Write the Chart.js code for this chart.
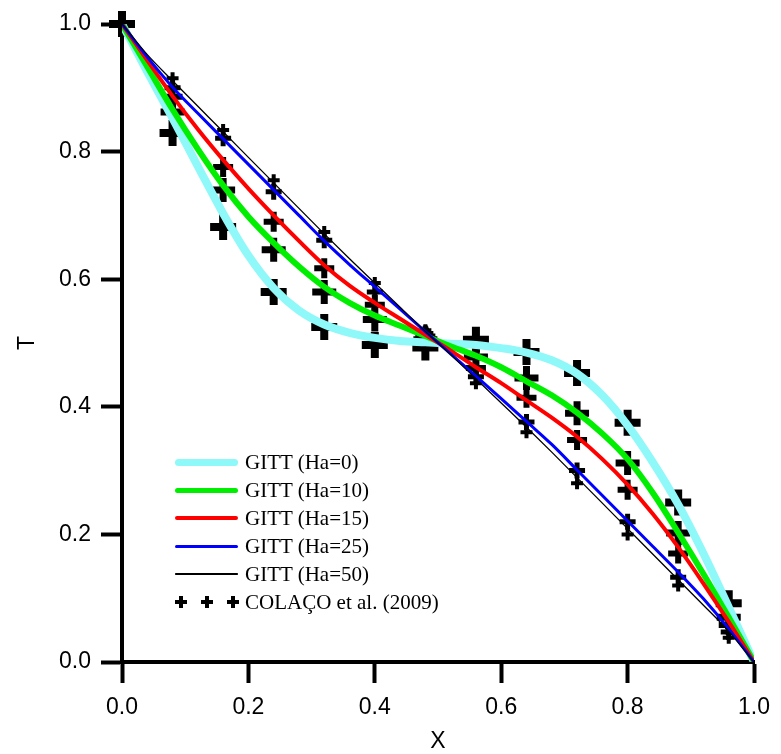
<!DOCTYPE html>
<html>
<head>
<meta charset="utf-8">
<script src="https://cdn.jsdelivr.net/npm/chart.js@4.4.1/dist/chart.umd.min.js"></script>
<style>
    html, body { margin: 0; padding: 0; background: #fff; }
    #wrap { position: relative; width: 781px; height: 754px; }
    #legend { position: absolute; left: 175px; top: 448px; font-family: "Liberation Serif", "Times New Roman", serif; font-size: 21px; color: #000; }
    .row { position: relative; height: 28px; width: 300px; }
    .swatch { position: absolute; left: 0; width: 63px; }
    .txt { position: absolute; left: 70px; top: 0; line-height: 28px; white-space: nowrap; }
    .plus { position: absolute; width: 12px; height: 12px; top: 8px; }
    .plus::before, .plus::after { content: ""; position: absolute; background: #000; }
    .plus::before { left: 0; top: 4px; width: 12px; height: 4px; }
    .plus::after { left: 4px; top: 0; width: 4px; height: 12px; }
</style>
</head>
<body>
<div id="wrap">
    <canvas id="tChart" width="781" height="754"></canvas>
    <div id="legend"></div>
</div>
<script>
// GITT curves, every 0.04 in X
const curveX = [0, 0.04, 0.08, 0.12, 0.16, 0.20, 0.24, 0.28, 0.32, 0.36, 0.40, 0.44, 0.48,
                0.52, 0.56, 0.60, 0.64, 0.68, 0.72, 0.76, 0.80, 0.84, 0.88, 0.92, 0.96, 1.0];
const gittHa0  = [1, 0.925, 0.852, 0.777, 0.703, 0.637, 0.586, 0.551, 0.529, 0.516, 0.508, 0.503, 0.501,
                  0.499, 0.497, 0.492, 0.485, 0.473, 0.452, 0.418, 0.371, 0.313, 0.247, 0.170, 0.086, 0];
const gittHa10 = [1, 0.933, 0.866, 0.804, 0.747, 0.698, 0.657, 0.620, 0.588, 0.563, 0.543, 0.527, 0.511,
                  0.495, 0.480, 0.462, 0.440, 0.418, 0.391, 0.358, 0.318, 0.265, 0.203, 0.138, 0.070, 0];
const gittHa15 = [1, 0.943, 0.887, 0.835, 0.787, 0.742, 0.700, 0.660, 0.622, 0.590, 0.563, 0.538, 0.513,
                  0.488, 0.462, 0.437, 0.410, 0.383, 0.353, 0.318, 0.278, 0.232, 0.180, 0.123, 0.063, 0];
const gittHa25 = [1, 0.948, 0.901, 0.860, 0.820, 0.780, 0.740, 0.700, 0.660, 0.623, 0.588, 0.553, 0.518,
                  0.483, 0.448, 0.413, 0.377, 0.341, 0.301, 0.261, 0.221, 0.181, 0.141, 0.099, 0.052, 0];
const gittHa50 = [1, 0.952, 0.911, 0.871, 0.831, 0.791, 0.751, 0.711, 0.671, 0.632, 0.594, 0.556, 0.518,
                  0.482, 0.444, 0.406, 0.368, 0.329, 0.289, 0.249, 0.209, 0.169, 0.129, 0.089, 0.048, 0];

// COLAÇO et al. (2009) points
const colacoX = [0, 0.08, 0.16, 0.24, 0.32, 0.40, 0.48, 0.56, 0.64, 0.72, 0.80, 0.88, 0.96];
const colacoHa0  = [1, 0.829, 0.682, 0.580, 0.525, 0.497, 0.493, 0.505, 0.486, 0.453, 0.375, 0.250, 0.092];
const colacoHa10 = [1, 0.862, 0.740, 0.646, 0.580, 0.537, 0.505, 0.478, 0.445, 0.390, 0.312, 0.202, 0.070];
const colacoHa15 = [1, 0.886, 0.776, 0.690, 0.617, 0.560, 0.510, 0.461, 0.414, 0.348, 0.270, 0.170, 0.058];
const colacoHa25 = [1, 0.900, 0.821, 0.737, 0.661, 0.580, 0.515, 0.447, 0.376, 0.300, 0.220, 0.133, 0.047];
const colacoHa50 = [1, 0.915, 0.834, 0.755, 0.674, 0.594, 0.520, 0.437, 0.360, 0.280, 0.200, 0.120, 0.038];

const curveLabels = ['GITT (Ha=0)', 'GITT (Ha=10)', 'GITT (Ha=15)', 'GITT (Ha=25)', 'GITT (Ha=50)'];
const colacoLabel = 'COLAÇO et al. (2009)';

const curveColors = ['#8ff8f8', '#00ee00', '#ff0000', '#0000ff', '#000000'];
const curveWidths = [8, 6, 4, 3, 1.3];
const markerRadius = [13, 12, 10, 8, 6];
const markerWidths = [8, 7, 6, 5, 4];

const toPts = (xs, ys) => xs.map((x, i) => ({x: x, y: ys[i]}));

const curves = [gittHa0, gittHa10, gittHa15, gittHa25, gittHa50];
const colaco = [colacoHa0, colacoHa10, colacoHa15, colacoHa25, colacoHa50];

const datasets = [];
curves.forEach((ys, i) => {
    datasets.push({
        label: curveLabels[i],
        data: toPts(curveX, ys),
        showLine: true,
        borderColor: curveColors[i],
        borderWidth: curveWidths[i],
        pointRadius: 0,
        cubicInterpolationMode: 'monotone',
        order: 5 - i
    });
});
colaco.forEach((ys, i) => {
    datasets.push({
        label: colacoLabel,
        data: toPts(colacoX, ys),
        showLine: false,
        pointStyle: 'cross',
        pointRadius: markerRadius[i],
        pointBorderWidth: markerWidths[i],
        borderColor: '#000',
        backgroundColor: '#000',
        clip: false,
        order: 10
    });
});

const tickFont = {family: '"Liberation Sans", Arial, sans-serif', size: 23};

function axis(titleText, titlePad) {
    return {
        type: 'linear',
        min: 0,
        max: 1,
        ticks: {
            stepSize: 0.2,
            color: '#000',
            font: tickFont,
            padding: 10,
            maxRotation: 0,
            callback: v => v.toFixed(1)
        },
        grid: {
            drawOnChartArea: false,
            drawTicks: true,
            tickLength: 21,
            tickWidth: 4,
            tickColor: '#000'
        },
        border: {display: true, color: '#000', width: 4},
        title: {display: true, text: titleText, color: '#000', font: tickFont, padding: titlePad}
    };
}

const xAxis = axis('X', {top: 0, bottom: -1});
xAxis.afterFit = s => { s.height = 92; };
xAxis.ticks.padding = 11;
const yAxis = axis('T', {top: 14, bottom: 0});
yAxis.afterFit = s => { s.width = 122; };

new Chart(document.getElementById('tChart'), {
    type: 'scatter',
    data: {datasets: datasets},
    options: {
        responsive: false,
        animation: false,
        events: [],
        layout: {padding: {top: 24, right: 21, left: 0, bottom: 0}},
        plugins: {legend: {display: false}, tooltip: {enabled: false}},
        scales: {x: xAxis, y: yAxis}
    }
});

// legend inside the plot, bottom left
const legend = document.getElementById('legend');
const swatchH = [7, 5, 4, 3, 1.5];
curveLabels.forEach((lab, i) => {
    const row = document.createElement('div');
    row.className = 'row';
    const sw = document.createElement('div');
    sw.className = 'swatch';
    sw.style.height = swatchH[i] + 'px';
    sw.style.top = (14 - swatchH[i] / 2) + 'px';
    sw.style.background = curveColors[i];
    sw.style.borderRadius = (swatchH[i] / 2) + 'px';
    row.appendChild(sw);
    const t = document.createElement('div');
    t.className = 'txt';
    t.textContent = lab;
    row.appendChild(t);
    legend.appendChild(row);
});
const crow = document.createElement('div');
crow.className = 'row';
[0, 26, 52].forEach(x => {
    const p = document.createElement('div');
    p.className = 'plus';
    p.style.left = x + 'px';
    crow.appendChild(p);
});
const ct = document.createElement('div');
ct.className = 'txt';
ct.textContent = colacoLabel;
crow.appendChild(ct);
legend.appendChild(crow);
</script>
</body>
</html>
